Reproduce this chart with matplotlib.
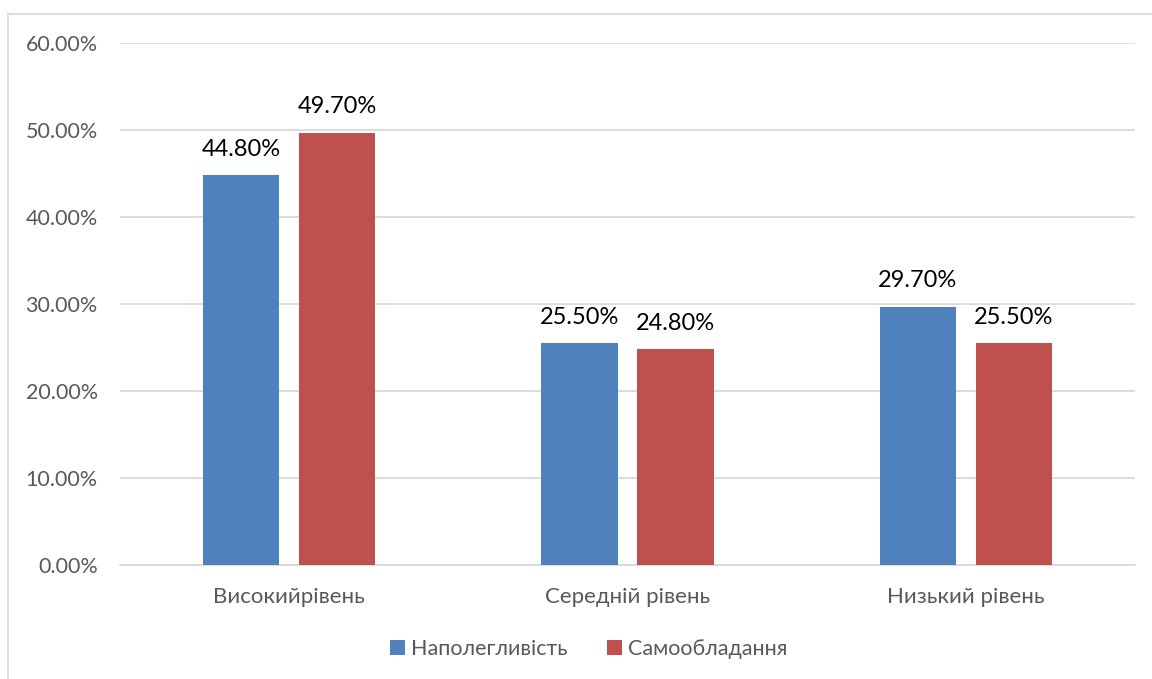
import matplotlib.pyplot as plt
from matplotlib.lines import Line2D
import numpy as np

# Рівні та значення (частки)
rivni = ['Високийрівень', 'Середній рівень', 'Низький рівень']
napolehlyvist = [0.448, 0.255, 0.297]
samovolodannia = [0.497, 0.248, 0.255]
serii = ['Наполегливість', 'Самообладання']
kolory = ['#4F81BD', '#C0504D']

plt.rcParams['font.family'] = ['Lato', 'DejaVu Sans']

fig = plt.figure(figsize=(11.52, 6.79), dpi=100)
ax = fig.add_axes([0.1042, 0.1679, 0.881, 0.7688])

x = np.arange(len(rivni))
shyryna = 0.225
zsuv = 0.142

for i, (znach, kolir, nazva) in enumerate(zip([napolehlyvist, samovolodannia], kolory, serii)):
    pos = x + (zsuv if i else -zsuv)
    bars = ax.bar(pos, znach, width=shyryna, color=kolir, label=nazva, zorder=3)
    for b, v in zip(bars, znach):
        ax.annotate(f'{v * 100:.2f}%', (b.get_x() + b.get_width() / 2, v),
                    xytext=(0, 11), textcoords='offset points',
                    ha='center', va='bottom', fontsize=17, color='black')

ax.set_xlim(-0.5, 2.5)
ax.set_ylim(0, 0.6)
ax.set_yticks(np.arange(0, 0.61, 0.1))
ax.set_yticklabels([f'{t * 100:.2f}%' for t in np.arange(0, 0.61, 0.1)])
ax.set_xticks(x)
ax.set_xticklabels(rivni)
ax.tick_params(axis='y', length=0, pad=16, labelsize=15.5, labelcolor='#595959')
ax.tick_params(axis='x', length=0, pad=16, labelsize=16, labelcolor='#595959')
ax.grid(axis='y', color='#D9D9D9', linewidth=1.3, zorder=0)
for s in ['top', 'right', 'left']:
    ax.spines[s].set_visible(False)
ax.spines['bottom'].set_color('#D9D9D9')
ax.spines['bottom'].set_linewidth(1.3)

# Рамка діаграми
fig.add_artist(Line2D([8 / 1152, 8 / 1152], [0, 1 - 14 / 679], color='#D9D9D9', lw=1.3,
                      transform=fig.transFigure))
fig.add_artist(Line2D([8 / 1152, 1], [1 - 14 / 679, 1 - 14 / 679], color='#D9D9D9', lw=1.3,
                      transform=fig.transFigure))

fig.legend(loc='center', bbox_to_anchor=(0.511, 0.044), ncol=2, frameon=False,
           fontsize=15.5, labelcolor='#595959', handlelength=0.7, handleheight=0.7,
           handletextpad=0.3, columnspacing=1.8)

fig.savefig('out.png', dpi=100)
